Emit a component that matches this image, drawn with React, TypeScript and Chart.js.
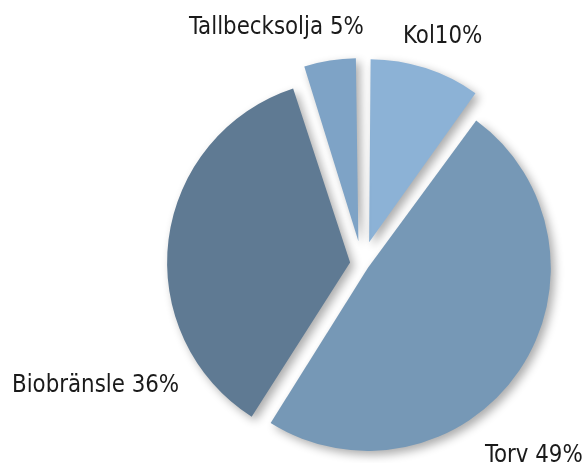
import React, { useEffect, useRef } from "react";
import { Chart, registerables } from "chart.js";

Chart.register(...registerables);

const categories = ["Kol", "Torv", "Biobränsle", "Tallbecksolja"];
const shares = [10, 49, 36, 5];
const pointLabels = ["Kol10%", "Torv 49%", "Biobränsle 36%", "Tallbecksolja 5%"];

const sliceColors = ["#8cb2d6", "#7698b6", "#5f7a93", "#7ea3c6"];
const sliceOffsetsPx = [23, 7, 12, 23];
const RADIUS = 183;
const LABEL_POS = [
  { x: 403, y: 43 },
  { x: 485, y: 462 },
  { x: 12, y: 392 },
  { x: 189, y: 34 },
];

export default function App() {
  const ref = useRef<HTMLCanvasElement | null>(null);
  useEffect(() => {
    const prevMargin = document.body.style.margin;
    document.body.style.margin = "0";
    const canvas = ref.current!;
    const shadowPlugin = {
      id: "shadowAndFix",
      afterDatasetsUpdate(chart: any) {
        const meta = chart.getDatasetMeta(0);
        meta.data.forEach((el: any, i: number) => {
          const off = sliceOffsetsPx[i];
          const fix = 1 - Math.sin(Math.min(Math.PI, el.circumference || 0));
          el.outerRadius = RADIUS - off * fix;
        });
      },
      beforeDatasetsDraw(chart: any) {
        const ctx = chart.ctx;
        ctx.save();
        ctx.shadowColor = "rgba(0,0,0,0.33)";
        ctx.shadowBlur = 10;
        ctx.shadowOffsetX = 4;
        ctx.shadowOffsetY = 4;
      },
      afterDatasetsDraw(chart: any) {
        chart.ctx.restore();
      },
      afterDraw(chart: any) {
        const ctx = chart.ctx;
        ctx.save();
        ctx.fillStyle = "#1a1a1a";
        ctx.font = '25px "DejaVu Sans Condensed", sans-serif';
        ctx.textAlign = "left";
        ctx.textBaseline = "alphabetic";
        pointLabels.forEach((t, i) => {
          ctx.save();
          ctx.translate(LABEL_POS[i].x, LABEL_POS[i].y);
          ctx.scale(0.95, 1);
          ctx.fillText(t, 0, 0);
          ctx.restore();
        });
        ctx.restore();
      },
    };
    const chart = new Chart(canvas, {
      type: "pie",
      data: {
        labels: categories,
        datasets: [
          {
            data: shares,
            backgroundColor: sliceColors,
            borderWidth: 0,
            offset: sliceOffsetsPx.map((o) => o * 4),
            hoverOffset: 0,
          },
        ],
      },
      options: {
        animation: false,
        responsive: false,
        radius: RADIUS,
        layout: { padding: { left: 136, top: 65, right: 0, bottom: 0 } },
        plugins: {
          legend: { display: false },
          tooltip: { enabled: false },
        },
        events: [],
      },
      plugins: [shadowPlugin],
    });
    return () => {
      chart.destroy();
      document.body.style.margin = prevMargin;
    };
  }, []);
  return (
    <div style={{ width: 588, height: 463, background: "#fff" }}>
      <canvas ref={ref} width={588} height={463} style={{ display: "block" }} />
    </div>
  );
}
